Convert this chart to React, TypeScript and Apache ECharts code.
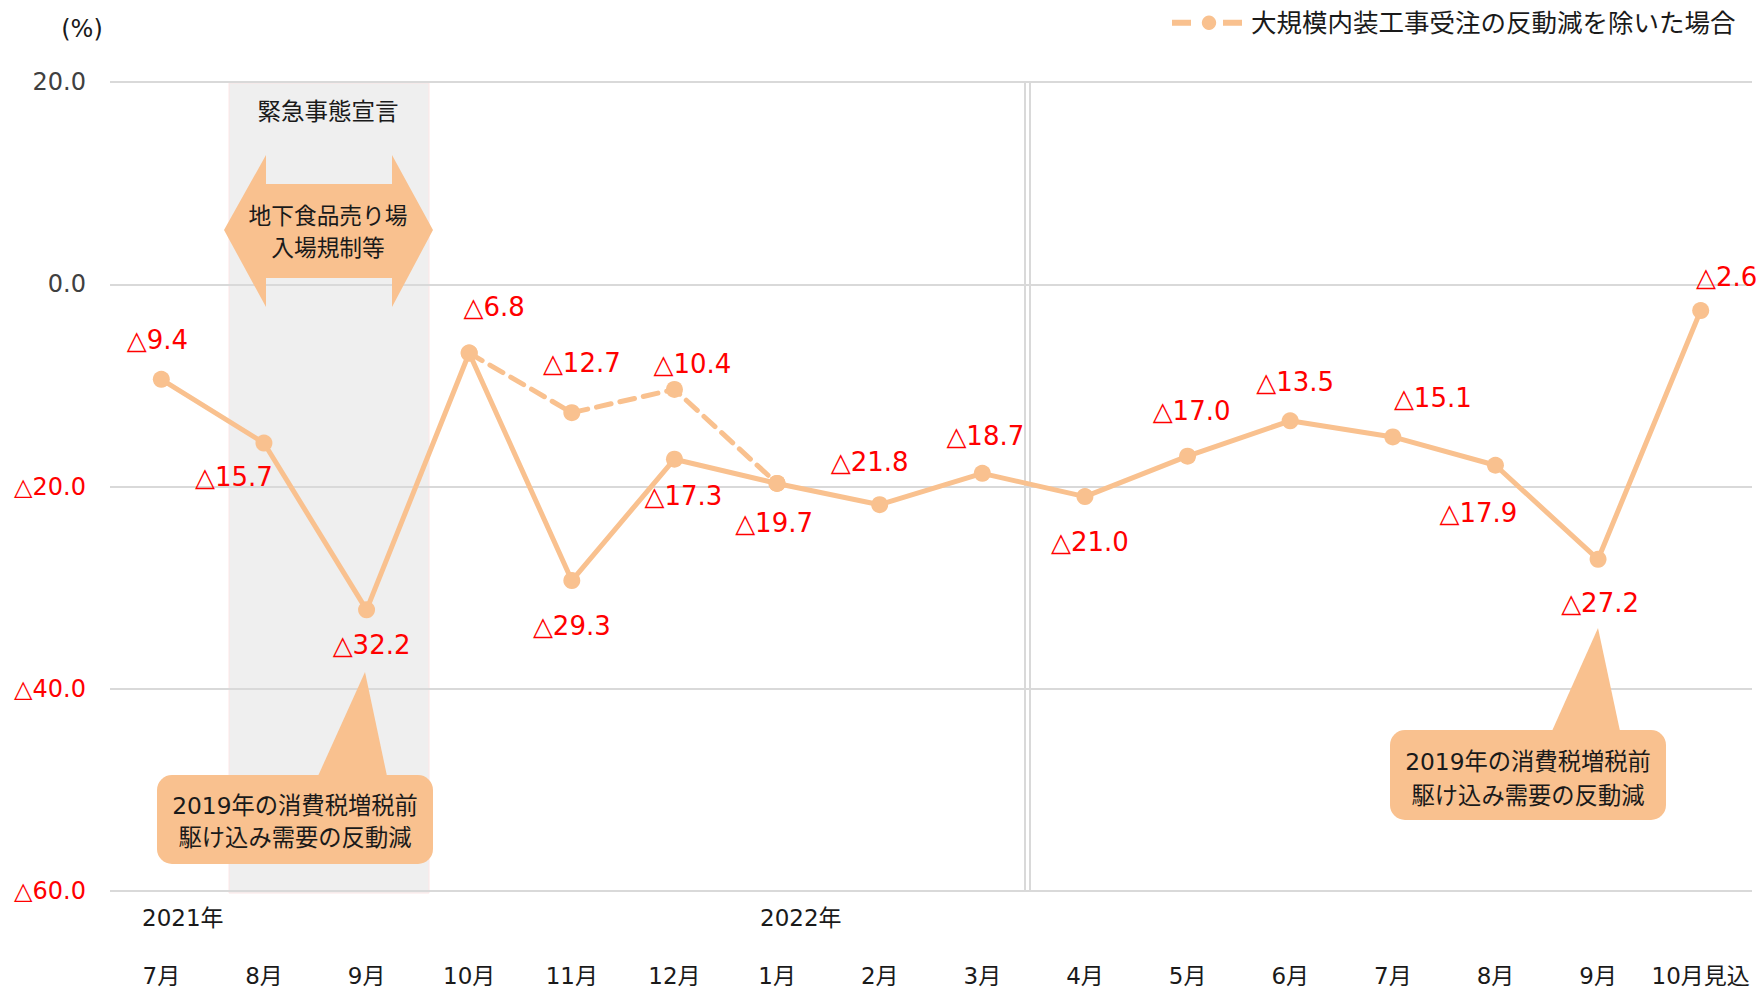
import React, { useEffect, useRef } from 'react';
import * as echarts from 'echarts';

const categories = ['7月', '8月', '9月', '10月', '11月', '12月', '1月', '2月', '3月', '4月', '5月', '6月', '7月', '8月', '9月', '10月見込'];
const mainValues = [-9.4, -15.7, -32.2, -6.8, -29.3, -17.3, -19.7, -21.8, -18.7, -21.0, -17.0, -13.5, -15.1, -17.9, -27.2, -2.6];
const adjustedValues: (number | null)[] = [null, null, null, -6.8, -12.7, -10.4, -19.7, null, null, null, null, null, null, null, null, null];
const adjustedName = '大規模内装工事受注の反動減を除いた場合';
const yearLabels = ['2021年', '2022年'];
const yMin = -60;
const yMax = 20;
const yInterval = 20;
const unitLabel = '(%)';
const periodLabel = '緊急事態宣言';
const arrowLabel = '地下食品売り場\n入場規制等';
const calloutLabel = '2019年の消費税増税前\n駆け込み需要の反動減';

// label placement (offset from point centre, px)
const mainLabelOffsets: [number, number][] = [
  [-4, -39], [-30, 34], [5, 35], [25, -46], [0, 45], [9, 37], [-3, 40], [-10, -43],
  [3, -37], [5, 45], [4, -45], [5, -39], [40, -39], [-17, 48], [2, 44], [26, -34],
];
const adjustedLabelOffsets: ([number, number] | null)[] = [
  null, null, null, null, [10, -50], [18, -25], null, null, null, null, null, null, null, null, null, null,
];

const FONT = "'DejaVu Sans', 'Noto Sans CJK JP', sans-serif";
const LINE_COLOR = '#F9C18F';
const RED = '#FF0000';

const fmt = (v: number) => (v < 0 ? '△' + Math.abs(v).toFixed(1) : v.toFixed(1));

export default function App() {
  const ref = useRef<HTMLDivElement>(null);

  useEffect(() => {
    if (!ref.current) return;
    const chart = echarts.init(ref.current, undefined, { renderer: 'svg' });

    const mainData = mainValues.map((v, i) => ({
      value: v,
      label: { offset: mainLabelOffsets[i] },
    }));
    const adjData = adjustedValues.map((v, i) => {
      const off = adjustedLabelOffsets[i];
      return off
        ? { value: v, label: { show: true, offset: off } }
        : { value: v, label: { show: false } };
    });

    const labelBase = {
      show: true,
      position: 'inside',
      align: 'center',
      verticalAlign: 'middle',
      color: RED,
      fontSize: 26,
      fontFamily: FONT,
      formatter: (p: any) => fmt(p.value),
    };

    chart.setOption({
      animation: false,
      backgroundColor: '#ffffff',
      textStyle: { fontFamily: FONT },
      grid: { left: 110, right: 10, top: 82, bottom: 99 },
      legend: {
        data: [adjustedName],
        left: 1164,
        top: 5,
        itemWidth: 74,
        itemHeight: 18,
        selectedMode: false,
        lineStyle: { width: 6, type: [19, 32], cap: 'butt' },
        textStyle: { fontSize: 25.5, color: '#1a1a1a', fontFamily: FONT },
      },
      xAxis: {
        type: 'category',
        data: categories,
        boundaryGap: true,
        axisLine: { show: false },
        axisTick: { show: false },
        axisLabel: { margin: 73, fontSize: 23, color: '#1a1a1a', fontFamily: FONT, interval: 0 },
      },
      yAxis: {
        type: 'value',
        min: yMin,
        max: yMax,
        interval: yInterval,
        axisLine: { show: false },
        axisTick: { show: false },
        splitLine: { lineStyle: { color: '#D9D9D9', width: 2 } },
        axisLabel: {
          margin: 24,
          formatter: (v: number) => (v < 0 ? `{neg|${fmt(v)}}` : `{pos|${fmt(v)}}`),
          rich: {
            neg: { color: RED, fontSize: 24, fontFamily: FONT },
            pos: { color: '#404040', fontSize: 24, fontFamily: FONT },
          },
        },
      },
      series: [
        {
          name: '実績',
          type: 'line',
          data: mainData,
          symbol: 'circle',
          symbolSize: 17,
          lineStyle: { color: LINE_COLOR, width: 5 },
          itemStyle: { color: LINE_COLOR },
          label: labelBase,
          z: 3,
        },
        {
          name: adjustedName,
          type: 'line',
          data: adjData,
          symbol: 'circle',
          symbolSize: 17,
          connectNulls: false,
          lineStyle: { color: LINE_COLOR, width: 5, type: [15, 9], cap: 'round' },
          itemStyle: { color: LINE_COLOR },
          label: labelBase,
          z: 4,
        },
      ],
      graphic: [
        // shaded period
        {
          type: 'rect',
          z: -10,
          silent: true,
          shape: { x: 229, y: 83, width: 200, height: 810 },
          style: { fill: '#EFEFEF', stroke: '#FCE6E6', lineWidth: 1 },
        },
        // double vertical separator
        { type: 'line', z: 1, shape: { x1: 1025, y1: 81, x2: 1025, y2: 891 }, style: { stroke: '#D9D9D9', lineWidth: 2 } },
        { type: 'line', z: 1, shape: { x1: 1030, y1: 81, x2: 1030, y2: 891 }, style: { stroke: '#D9D9D9', lineWidth: 2 } },
        {
          type: 'text', z: 100, x: 328, y: 112,
          style: { text: periodLabel, fontSize: 23.5, fill: '#1a1a1a', fontFamily: FONT, align: 'center', verticalAlign: 'middle' },
        },
        // double-headed arrow
        {
          type: 'polygon', z: 50,
          shape: {
            points: [[224, 230], [266, 155], [266, 184], [392, 184], [392, 155], [433, 230], [392, 307], [392, 278], [266, 278], [266, 307]],
          },
          style: { fill: LINE_COLOR },
        },
        {
          type: 'text', z: 100, x: 328, y: 232,
          style: { text: arrowLabel, fontSize: 22.7, lineHeight: 32, fill: '#1a1a1a', fontFamily: FONT, align: 'center', verticalAlign: 'middle' },
        },
        // left callout
        {
          type: 'polygon', z: 50,
          shape: { points: [[318, 776], [365, 672], [387, 776]] },
          style: { fill: LINE_COLOR },
        },
        {
          type: 'rect', z: 50,
          shape: { x: 157, y: 775, width: 276, height: 89, r: 15 },
          style: { fill: LINE_COLOR },
        },
        {
          type: 'text', z: 100, x: 295, y: 821,
          style: { text: calloutLabel, fontSize: 23.3, lineHeight: 32, fill: '#1a1a1a', fontFamily: FONT, align: 'center', verticalAlign: 'middle' },
        },
        // right callout
        {
          type: 'polygon', z: 50,
          shape: { points: [[1552, 731], [1598, 628], [1620, 731]] },
          style: { fill: LINE_COLOR },
        },
        {
          type: 'rect', z: 50,
          shape: { x: 1390, y: 730, width: 276, height: 90, r: 15 },
          style: { fill: LINE_COLOR },
        },
        {
          type: 'text', z: 100, x: 1528, y: 778,
          style: { text: calloutLabel, fontSize: 23.3, lineHeight: 34, fill: '#1a1a1a', fontFamily: FONT, align: 'center', verticalAlign: 'middle' },
        },
        // unit + year labels
        {
          type: 'text', z: 100, x: 82, y: 29,
          style: { text: unitLabel, fontSize: 24, fill: '#1a1a1a', fontFamily: FONT, align: 'center', verticalAlign: 'middle' },
        },
        {
          type: 'text', z: 100, x: 142, y: 918,
          style: { text: yearLabels[0], fontSize: 23, fill: '#1a1a1a', fontFamily: FONT, align: 'left', verticalAlign: 'middle' },
        },
        {
          type: 'text', z: 100, x: 760, y: 918,
          style: { text: yearLabels[1], fontSize: 23, fill: '#1a1a1a', fontFamily: FONT, align: 'left', verticalAlign: 'middle' },
        },
      ],
    });

    return () => chart.dispose();
  }, []);

  return (
    <div
      ref={ref}
      style={{ position: 'fixed', left: 0, top: 0, width: 1762, height: 990, background: '#fff' }}
    />
  );
}
